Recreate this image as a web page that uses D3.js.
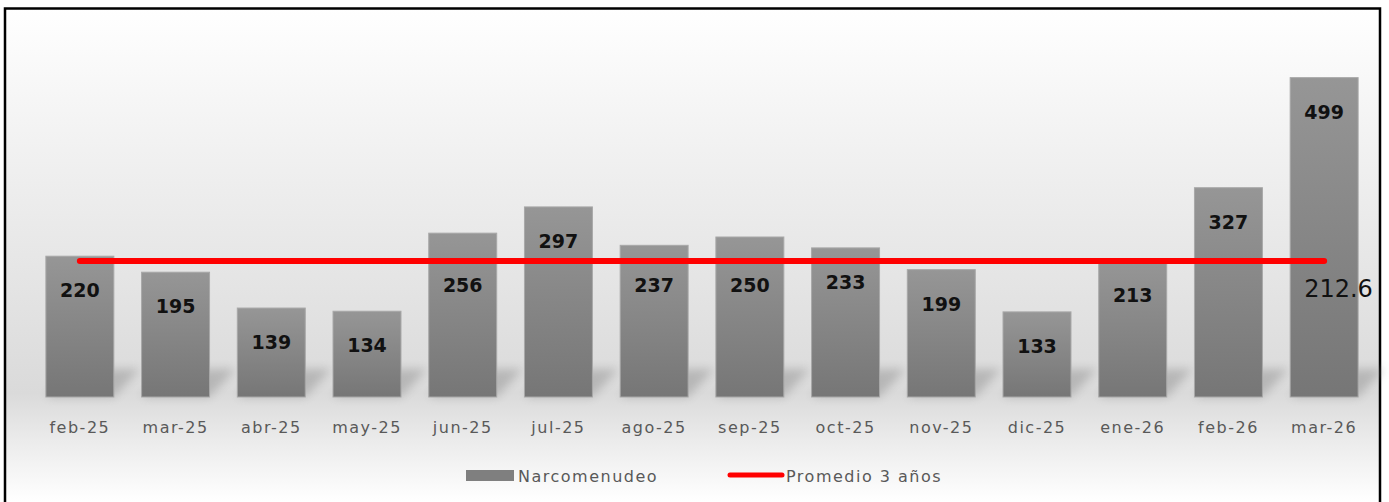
<!DOCTYPE html>
<html>
<head>
<meta charset="utf-8">
<script src="https://cdn.jsdelivr.net/npm/d3@7"></script>
<style>
  body { margin: 0; background: #fff; }
  .tick-label { font-family: "DejaVu Sans", sans-serif; font-size: 16px; fill: #595959; letter-spacing: 1.5px; }
  .value { font-family: "DejaVu Sans", sans-serif; font-size: 19px; font-weight: bold; fill: #111; }
  .avg-label { font-family: "DejaVu Sans", sans-serif; font-size: 24px; fill: #111; }
  .legend { font-family: "DejaVu Sans", sans-serif; font-size: 16px; fill: #595959; letter-spacing: 1.5px; }
</style>
</head>
<body>
<script>
var months = ['feb-25', 'mar-25', 'abr-25', 'may-25', 'jun-25', 'jul-25', 'ago-25',
              'sep-25', 'oct-25', 'nov-25', 'dic-25', 'ene-26', 'feb-26', 'mar-26'];
var narcomenudeo = [220, 195, 139, 134, 256, 297, 237, 250, 233, 199, 133, 213, 327, 499];
var promedio = 212.6;
var seriesNames = ['Narcomenudeo', 'Promedio 3 años'];

var svgWidth = 1389, svgHeight = 502;
var baseline = 397;

var svg = d3.select('body')
    .append('svg')
    .attr('width', svgWidth)
    .attr('height', svgHeight);

var defs = svg.append('defs');

// chart area background: white -> grey near the bars -> white again
var bg = defs.append('linearGradient')
    .attr('id', 'bg')
    .attr('gradientUnits', 'userSpaceOnUse')
    .attr('x1', 0).attr('x2', 0)
    .attr('y1', 8).attr('y2', 502);
bg.append('stop').attr('offset', 0).attr('stop-color', '#ffffff');
bg.append('stop').attr('offset', 0.35).attr('stop-color', '#eeeeee');
bg.append('stop').attr('offset', 0.78).attr('stop-color', '#dadada');
bg.append('stop').attr('offset', 0.88).attr('stop-color', '#ececec');
bg.append('stop').attr('offset', 1).attr('stop-color', '#ffffff');

var barGrad = defs.append('linearGradient')
    .attr('id', 'barGrad')
    .attr('x1', 0).attr('x2', 0)
    .attr('y1', 0).attr('y2', 1);
barGrad.append('stop').attr('offset', 0).attr('stop-color', '#969696');
barGrad.append('stop').attr('offset', 1).attr('stop-color', '#767676');

defs.append('filter')
    .attr('id', 'blur')
    .attr('x', '-50%').attr('y', '-50%')
    .attr('width', '200%').attr('height', '200%')
    .append('feGaussianBlur')
    .attr('stdDeviation', 5);

svg.append('rect')
    .attr('x', 5)
    .attr('y', 8.5)
    .attr('width', 1375)
    .attr('height', 510)
    .attr('fill', 'url(#bg)')
    .attr('stroke', '#000')
    .attr('stroke-width', 2.5);

var xScale = d3.scaleBand()
    .domain(months)
    .range([32, 1372])
    .paddingInner(0.29)
    .paddingOuter(0.145);

var yScale = d3.scaleLinear()
    .domain([0, 600])
    .range([baseline, 13]);

var data = months.map(function(m, i) {
    return { month: m, value: narcomenudeo[i] };
});

// soft diagonal shadows behind the bars
svg.append('g')
    .selectAll('polygon')
    .data(data)
    .join('polygon')
    .attr('points', function(d) {
        var x0 = xScale(d.month), x1 = x0 + xScale.bandwidth();
        return [[x0, baseline], [x1, baseline], [x1 + 26, baseline - 28], [x0 + 26, baseline - 28]]
            .map(function(p) { return p.join(','); }).join(' ');
    })
    .attr('fill', '#8a8a8a')
    .attr('opacity', 0.45)
    .attr('filter', 'url(#blur)');

svg.append('g')
    .selectAll('rect')
    .data(data)
    .join('rect')
    .attr('x', function(d) { return xScale(d.month); })
    .attr('y', function(d) { return yScale(d.value); })
    .attr('width', xScale.bandwidth())
    .attr('height', function(d) { return baseline - yScale(d.value); })
    .attr('fill', 'url(#barGrad)')
    .attr('stroke', '#a8a8a8')
    .attr('stroke-width', 1);

// x axis labels
var xAxis = d3.axisBottom(xScale).tickSize(0).tickPadding(0);
var gx = svg.append('g')
    .attr('transform', 'translate(0,' + (baseline + 25) + ')')
    .call(xAxis);
gx.select('.domain').remove();
gx.selectAll('text')
    .attr('class', 'tick-label')
    .attr('font-family', null)
    .attr('font-size', null)
    .attr('dy', '0.71em')
    .attr('fill', null);

// average line
var yAvg = yScale(promedio);
var line = d3.line()
    .x(function(d) { return xScale(d) + xScale.bandwidth() / 2; })
    .y(function() { return yAvg; });

svg.append('path')
    .datum([months[0], months[months.length - 1]])
    .attr('d', line)
    .attr('fill', 'none')
    .attr('stroke', '#ff0000')
    .attr('stroke-width', 6)
    .attr('stroke-linecap', 'round');

// value labels, pushed below the average line when they would touch it
svg.append('g')
    .selectAll('text')
    .data(data)
    .join('text')
    .attr('class', 'value')
    .attr('text-anchor', 'middle')
    .attr('x', function(d) { return xScale(d.month) + xScale.bandwidth() / 2; })
    .attr('y', function(d) {
        var cy = yScale(d.value) + 34;
        if (Math.abs(cy - yAvg) < 20) cy = yAvg + 24;
        return cy + 7;
    })
    .text(function(d) { return d.value; });

svg.append('text')
    .attr('class', 'avg-label')
    .attr('x', xScale(months[months.length - 1]) + xScale.bandwidth() / 2 - 20)
    .attr('y', yAvg + 36)
    .text(d3.format('.1f')(promedio));

// legend
var legend = svg.append('g').attr('transform', 'translate(466, 476)');
legend.append('rect')
    .attr('x', 0).attr('y', -6)
    .attr('width', 48).attr('height', 11)
    .attr('fill', '#7f7f7f');
legend.append('text')
    .attr('class', 'legend')
    .attr('x', 52).attr('y', 6)
    .text(seriesNames[0]);
legend.append('line')
    .attr('x1', 264).attr('x2', 316)
    .attr('y1', -1).attr('y2', -1)
    .attr('stroke', '#ff0000')
    .attr('stroke-width', 5)
    .attr('stroke-linecap', 'round');
legend.append('text')
    .attr('class', 'legend')
    .attr('x', 320).attr('y', 6)
    .text(seriesNames[1]);
</script>
</body>
</html>
